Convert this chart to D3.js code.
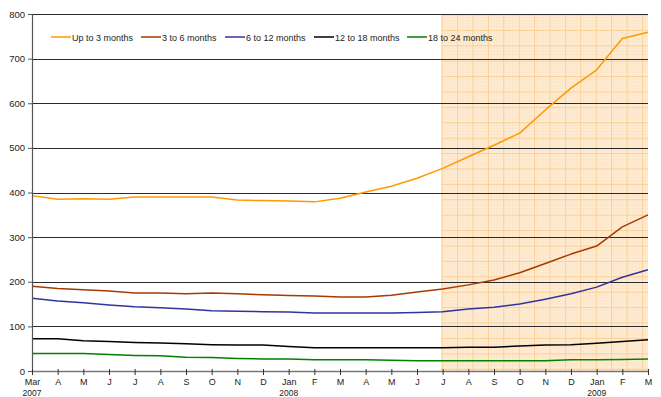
<!DOCTYPE html>
<html>
<head>
<meta charset="utf-8">
<script src="https://cdn.jsdelivr.net/npm/d3@7"></script>
<style>
  body { margin: 0; background: #fff; }
  svg { display: block; font-family: "Liberation Sans", Arial, sans-serif; }
</style>
</head>
<body>
<svg id="chart" width="661" height="397"></svg>
<script>
// Months from Mar 2007 to Mar 2009
const monthLabels = ["Mar","A","M","J","J","A","S","O","N","D","Jan","F","M","A","M","J","J","A","S","O","N","D","Jan","F","M"];
const yearLabels = [{ i: 0, text: "2007" }, { i: 10, text: "2008" }, { i: 22, text: "2009" }];

const upTo3   = [393,385,386,385,390,390,390,390,383,382,381,379,387,401,414,432,454,480,506,533,585,634,675,745,759];
const m3to6   = [190,185,182,179,175,175,173,175,173,171,169,168,166,166,170,177,184,193,204,220,241,262,280,323,350];
const m6to12  = [163,157,153,148,144,142,139,135,134,133,132,130,130,130,130,131,133,139,143,150,161,173,188,210,227];
const m12to18 = [72,72,68,66,64,63,61,59,58,58,55,52,52,52,52,52,52,53,53,56,58,59,62,66,70];
const m18to24 = [39,39,39,37,35,34,31,30,28,27,27,25,25,25,24,23,23,23,23,23,23,25,25,26,27];

const seriesNames = ["Up to 3 months","3 to 6 months","6 to 12 months","12 to 18 months","18 to 24 months"];
const seriesColors = ["#FF9900","#A63A00","#3333A0","#000000","#008000"];
const seriesValues = [upTo3, m3to6, m6to12, m12to18, m18to24];

const yTicks = [0,100,200,300,400,500,600,700,800];
const forecastStart = 16; // Jul 2008 onward is shaded

const svg = d3.select("#chart");
const x = d3.scaleLinear().domain([0, monthLabels.length - 1]).range([32, 648]);
const y = d3.scaleLinear().domain([0, 800]).range([371, 14]);

// Shaded forecast region with a graph-paper pattern
const defs = svg.append("defs");
const cell = 15.4;
const pat = defs.append("pattern")
  .attr("id", "paper").attr("patternUnits", "userSpaceOnUse")
  .attr("width", cell).attr("height", cell)
  .attr("x", x(forecastStart) - 1).attr("y", y(800) + 0.5);
pat.append("rect").attr("width", cell).attr("height", cell).attr("fill", "#feecd6");
for (let k = 1; k < 5; k++) {
  pat.append("line").attr("x1", k * cell / 5).attr("x2", k * cell / 5).attr("y1", 0).attr("y2", cell)
    .attr("stroke", "#fcdfb8").attr("stroke-width", 0.5);
  pat.append("line").attr("y1", k * cell / 5).attr("y2", k * cell / 5).attr("x1", 0).attr("x2", cell)
    .attr("stroke", "#fcdfb8").attr("stroke-width", 0.5);
}
pat.append("line").attr("x1", 0.5).attr("x2", 0.5).attr("y1", 0).attr("y2", cell)
  .attr("stroke", "#fbcd8c").attr("stroke-width", 0.9);
pat.append("line").attr("y1", 0.5).attr("y2", 0.5).attr("x1", 0).attr("x2", cell)
  .attr("stroke", "#fbcd8c").attr("stroke-width", 0.9);

svg.append("rect")
  .attr("x", x(forecastStart) - 1.5).attr("y", y(800))
  .attr("width", x(monthLabels.length - 1) - x(forecastStart) + 1.5)
  .attr("height", y(0) - y(800))
  .attr("fill", "url(#paper)");

// Horizontal gridlines
svg.append("g").selectAll("line").data(yTicks.filter(d => d > 0)).join("line")
  .attr("x1", x(0)).attr("x2", x(monthLabels.length - 1))
  .attr("y1", d => Math.round(y(d)) + 0.5).attr("y2", d => Math.round(y(d)) + 0.5)
  .attr("stroke", "#2a2a2a").attr("stroke-width", 1);

// Series lines
const line = d3.line().x((d, i) => x(i)).y(d => y(d));
svg.append("g").selectAll("path").data(seriesValues).join("path")
  .attr("d", line)
  .attr("fill", "none")
  .attr("stroke", (d, i) => seriesColors[i])
  .attr("stroke-width", 1.5)
  .attr("stroke-linejoin", "round");

// Y axis
const yAxis = svg.append("g").attr("transform", `translate(${x(0)},0)`)
  .call(d3.axisLeft(y).tickValues(yTicks).tickSize(4).tickPadding(3));
yAxis.select(".domain").attr("stroke", "#555").attr("stroke-width", 1.2);
yAxis.selectAll(".tick line").attr("stroke", "#555");
yAxis.selectAll("text").attr("font-size", 9.5).attr("fill", "#222")
  .attr("font-family", "Liberation Sans, Arial, sans-serif");

// X axis
const xAxis = svg.append("g").attr("transform", `translate(0,${y(0)})`)
  .call(d3.axisBottom(x).tickValues(d3.range(monthLabels.length))
    .tickFormat(i => monthLabels[i]).tickSize(4).tickSizeOuter(0).tickPadding(4));
xAxis.select(".domain").attr("stroke", "#777").attr("stroke-width", 1.5);
xAxis.selectAll(".tick line").attr("stroke", "#333").attr("y1", -2);
xAxis.selectAll("text").attr("font-size", 9).attr("fill", "#222")
  .attr("font-family", "Liberation Sans, Arial, sans-serif");

svg.append("g").selectAll("text").data(yearLabels).join("text")
  .attr("x", d => x(d.i)).attr("y", 396)
  .attr("text-anchor", "middle")
  .attr("font-size", 8.5).attr("fill", "#222")
  .text(d => d.text);

// Legend
const legendX = [51, 141, 225, 314, 407];
const legend = svg.append("g").selectAll("g").data(seriesNames).join("g")
  .attr("transform", (d, i) => `translate(${legendX[i]},37)`);
legend.append("line").attr("x1", 0).attr("x2", 20).attr("y1", 0).attr("y2", 0)
  .attr("stroke", (d, i) => seriesColors[i]).attr("stroke-width", 1.5);
legend.append("text").attr("x", 21).attr("y", 3.5)
  .attr("font-size", 9).attr("fill", "#222").text(d => d);
</script>
</body>
</html>
